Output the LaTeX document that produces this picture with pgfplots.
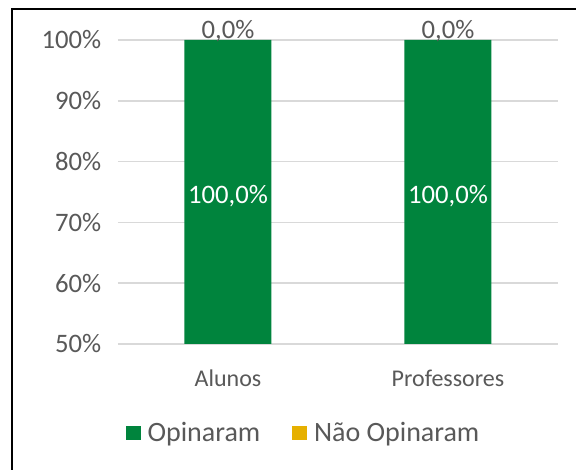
\documentclass[border=0pt]{standalone}
\usepackage{pgfplots}
\pgfplotsset{compat=1.18}
\usepackage{fontspec}
\setmainfont{Carlito}
\definecolor{verde}{RGB}{0,132,61}
\definecolor{amarelo}{RGB}{230,176,0}
\definecolor{cinza}{RGB}{89,89,89}
\definecolor{grade}{RGB}{217,217,217}

\begin{document}
\begin{tikzpicture}[x=1pt,y=1pt, lbl/.style={font=\fontsize{20}{23}\selectfont}]
% moldura (so esquerda e topo aparecem no recorte)
\path[fill=white] (0,0) rectangle (432,352.5);
\draw[black, line width=1.5pt] (9,0) -- (9,345.75) -- (432,345.75);

\begin{axis}[
  at={(88.5pt,94.5pt)}, anchor=south west,
  scale only axis, width=330pt, height=228pt,
  ybar stacked, bar width=65.25pt,
  xmin=-0.5, xmax=1.5, ymin=50, ymax=100,
  xtick={0,1}, xticklabels={Alunos,Professores},
  ytick={50,60,...,100},
  yticklabel={\pgfmathprintnumber{\tick}\%},
  /pgf/number format/assume math mode=true,
  ymajorgrids, grid style={grade, line width=1.1pt},
  axis line style={draw=none},
  major tick length=0pt,
  tick label style={text=cinza},
  yticklabel style={font=\fontsize{20}{23}\selectfont, xshift=-9pt},
  xticklabel style={font=\fontsize{18}{21}\selectfont, yshift=-16pt},
  clip=false,
  legend style={draw=none, fill=none, at={(0.4227,-0.2928)}, anchor=center,
    font=\fontsize{21}{25}\selectfont, text=cinza, legend columns=2,
    /tikz/every odd column/.append style={column sep=3pt},
    /tikz/every even column/.append style={column sep=22pt}},
  legend image code/.code={\draw[#1,draw=none] (0pt,-5.6pt) rectangle (11.25pt,5.6pt);},
]
  % Opinaram
  \addplot[fill=verde, draw=none] coordinates {(0,100) (1,100)};
  % Nao Opinaram
  \addplot[fill=amarelo, draw=none] coordinates {(0,0) (1,0)};

  % posicoes dos rotulos de dados
  \coordinate (m0) at (axis cs:0,74.3);
  \coordinate (m1) at (axis cs:1,74.3);
  \coordinate (t0) at (axis cs:0,100.2);
  \coordinate (t1) at (axis cs:1,100.2);

  \legend{Opinaram, Não Opinaram}
\end{axis}
\node[lbl, text=white, anchor=center] at (m0) {100,0\%};
\node[lbl, text=white, anchor=center] at (m1) {100,0\%};
\node[lbl, text=cinza, anchor=base] at (t0) {0,0\%};
\node[lbl, text=cinza, anchor=base] at (t1) {0,0\%};
\pgfresetboundingbox
\useasboundingbox (0,0) rectangle (432,352.5);
\end{tikzpicture}
\end{document}
